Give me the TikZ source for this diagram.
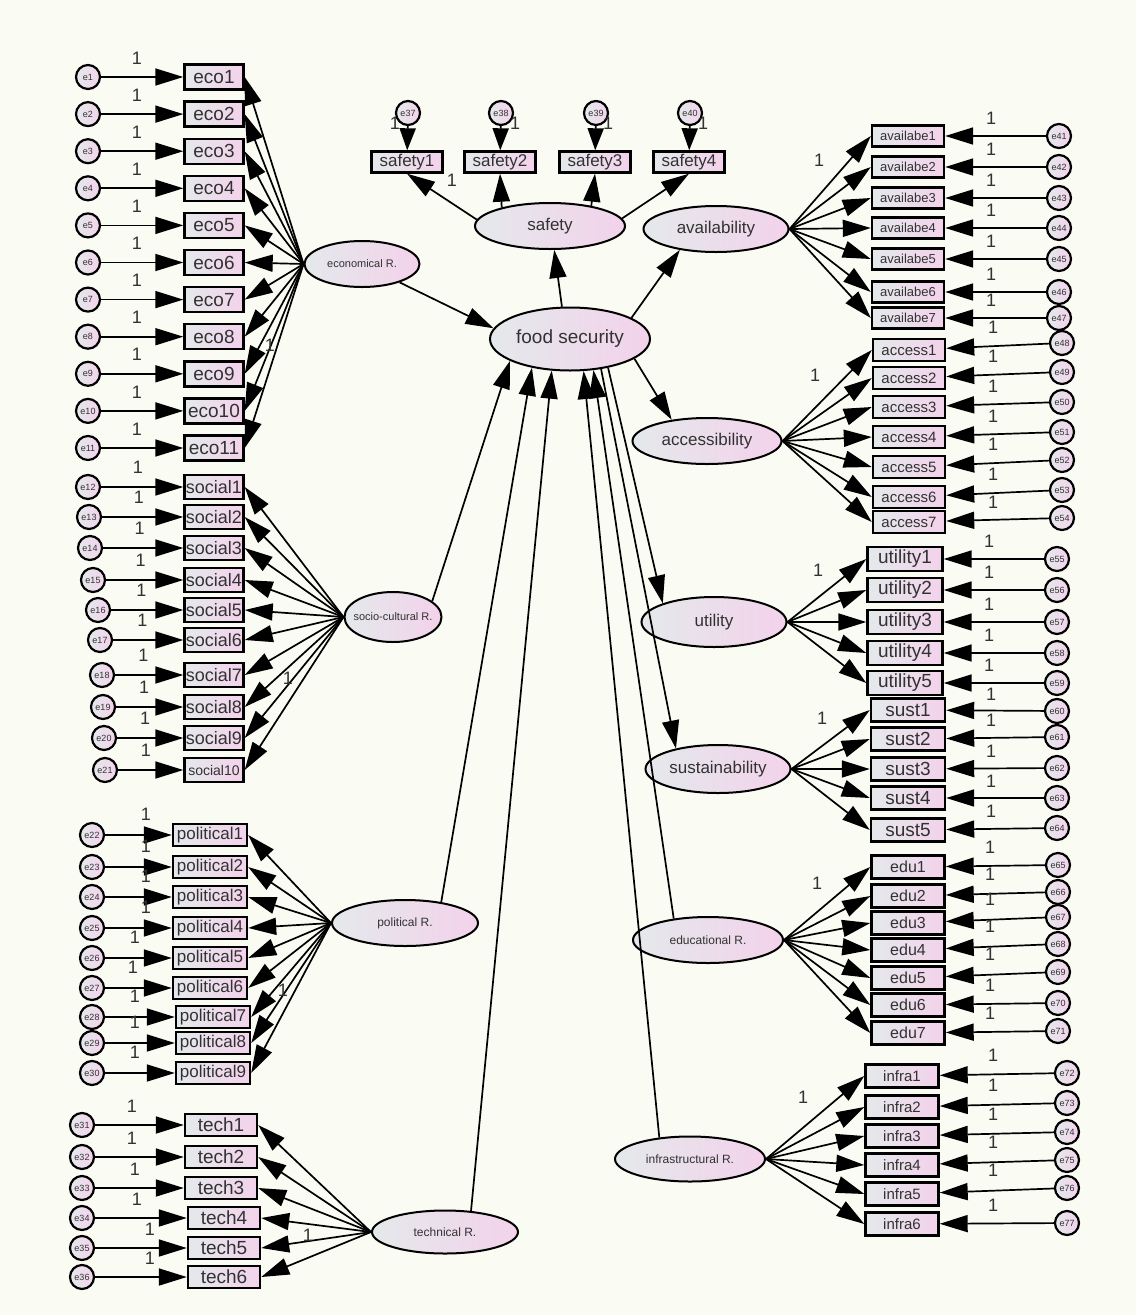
\documentclass[tikz,border=0pt]{standalone}
\usepackage{fontspec}
\setmainfont{Liberation Sans}
\usetikzlibrary{arrows.meta,shapes.geometric}
\definecolor{paper}{RGB}{250,251,243}
\definecolor{fillL}{RGB}{228,233,235}
\definecolor{fillR}{RGB}{243,210,235}
\definecolor{ink}{RGB}{50,50,50}
\newcommand\ctr[1]{\makebox[0pt]{#1}}
\newcommand\fs[1]{\fontsize{#1}{#1}\selectfont}
\begin{document}
\begin{tikzpicture}[x=1pt,y=-1pt,
  every node/.style={text=ink},
  lat/.style 2 args={ellipse, draw=black, line width=2pt, left color=fillL, right color=fillR,
    minimum width=#1, minimum height=#2, inner sep=0pt},
  obs/.style 2 args={rectangle, draw=black, line width=2.4pt, left color=fillL, right color=fillR,
    minimum width=#1, minimum height=#2, inner sep=0pt},
  err/.style={circle, draw=black, line width=2.2pt, left color=fillL, right color=fillR,
    minimum size=24, inner sep=0pt, font=\fs{9}},
  arr/.style={-{Triangle[length=28pt,width=17pt]}, line width=1.7pt, draw=black},
  one/.style={font=\fs{18}, inner sep=0pt},
]
\useasboundingbox (0,0) rectangle (1136,1315);
\fill[paper] (0,0) rectangle (1136,1315);

% latent variables
\node[lat={160}{63}, font=\fs{19}] (food)   at (570,339)  {\ctr{food security}};
\node[lat={150}{46}, font=\fs{17}] (safety) at (550,226)  {\ctr{safety}};
\node[lat={145}{46}, font=\fs{17}] (avail)  at (716,229)  {\ctr{availability}};
\node[lat={149}{46}, font=\fs{17}] (access) at (707,441)  {\ctr{accessibility}};
\node[lat={145}{50}, font=\fs{17}] (util)   at (714,622)  {\ctr{utility}};
\node[lat={145}{48}, font=\fs{17}] (sust)   at (718,769)  {\ctr{sustainability}};
\node[lat={115}{46}, font=\fs{11}] (econ)   at (362,264)  {\ctr{economical R.}};
\node[lat={97}{50},  font=\fs{11}] (socio)  at (393,617)  {\ctr{socio-cultural R.}};
\node[lat={146}{46}, font=\fs{12}] (polit)  at (405,923)  {\ctr{political R.}};
\node[lat={146}{43}, font=\fs{12}] (techn)  at (445,1232) {\ctr{technical R.}};
\node[lat={150}{46}, font=\fs{12}] (educ)   at (708,940)  {\ctr{educational R.}};
\node[lat={150}{45}, font=\fs{12}] (infra)  at (690,1159) {\ctr{infrastructural R.}};

% safety indicators
\foreach \i/\x/\lx [count=\k from 37] in {1/407/395,2/500/515,3/595/608,4/689/703}{
  \node[obs={71}{21}, font=\fs{17}] (saf\i) at (\x,162) {safety\i};
  \node[err] (e\k) at (\x+1,113) {e\k};
  \draw[-{Triangle[length=22pt,width=16pt]}, line width=1.7pt] (e\k) -- (saf\i);
  \node[one] (os\i) at (\lx,123) {1};
}
\draw[arr] (safety.175) -- (saf1.south);
\draw[arr] (safety.159) -- (saf2.south);
\draw[arr] (safety.26)  -- (saf3.south);
\draw[arr] (safety.6)   -- (saf4.south);
\node[one] (osl) at (452,180) {1};

% economical R.
\foreach \i in {1,...,11}{
  \pgfmathsetmacro\yy{77+(\i-1)*37.1}
  \node[obs={59}{25}, font=\fs{19}] (eco\i) at (214,\yy) {eco\i};
  \node[err] (e\i) at (88,\yy) {e\i};
  \draw[arr] (e\i) -- (eco\i);
  \draw[arr] (econ.west) -- (eco\i.east);
  \node[one] (oe\i) at (137,\yy-19) {1};
}
\node[one] (oel) at (270,345) {1};

% socio-cultural R.
\foreach \i/\y/\x/\f [count=\k from 12] in {1/487/88/18,2/517/89/18,3/548/90/18,4/580/93/18,
    5/610/98/18,6/640/100/18,7/675/102/18,8/707/103/18,9/738/104/18,10/770/105/14}{
  \node[obs={59}{24}, font=\fs{\f}] (soc\i) at (214,\y) {social\i};
  \node[err] (e\k) at (\x,\y) {e\k};
  \draw[arr] (e\k) -- (soc\i);
  \draw[arr] (socio.west) -- (soc\i.east);
  \node[one] (ol\i) at (137+\i*0.9,\y-20) {1};
}
\node[one] (osol) at (288,678) {1};

% political R.
\foreach \i/\y/\bx/\lx [count=\k from 22] in {1/835/210/146,2/867/210/146,3/897/210/146,
    4/928/210/146,5/958/210/135,6/988/210/133,7/1017/213/135,8/1043/213/135,9/1073/213/135}{
  \node[obs={74}{22}, font=\fs{17}] (pol\i) at (\bx,\y) {political\i};
  \node[err] (e\k) at (92,\y) {e\k};
  \draw[arr] (e\k) -- (pol\i);
  \draw[arr] (polit.west) -- (pol\i.east);
  \node[one] (op\i) at (\lx,\y-21) {1};
}
\node[one] (opol) at (283,990) {1};

% technical R.
\foreach \i/\y/\bx/\lx [count=\k from 31] in {1/1125/221/132,2/1157/221/132,3/1188/221/135,
    4/1218/224/137,5/1248/224/150,6/1277/224/150}{
  \node[obs={72}{22}, font=\fs{19}] (tec\i) at (\bx,\y) {tech\i};
  \node[err] (e\k) at (82,\y) {e\k};
  \draw[arr] (e\k) -- (tec\i);
  \draw[arr] (techn.west) -- (tec\i.east);
  \node[one] (ot\i) at (\lx,\y-19) {1};
}
\node[one] (otl) at (308,1235) {1};

% availability
\foreach \i/\y [count=\k from 41] in {1/136,2/167,3/198,4/228,5/259,6/292,7/318}{
  \node[obs={72}{21}, font=\fs{13}] (avb\i) at (908,\y) {availabe\i};
  \node[err] (e\k) at (1059,\y) {e\k};
  \draw[arr] (e\k) -- (avb\i);
  \draw[arr] (avail.east) -- (avb\i.west);
  \node[one] (oa\i) at (991,\y-18) {1};
}
\node[one] (oal) at (819,160) {1};

% accessibility
\foreach \i/\y/\ey [count=\k from 48] in {1/350/343,2/378/372,3/407/402,4/437/432,
    5/467/460,6/497/490,7/522/518}{
  \node[obs={72}{22}, font=\fs{15}] (acb\i) at (909,\y) {access\i};
  \node[err] (e\k) at (1062,\ey) {e\k};
  \draw[arr] (e\k) -- (acb\i);
  \draw[arr] (access.east) -- (acb\i.west);
  \node[one] (oc\i) at (993,\ey-16) {1};
}
\node[one] (ocl) at (815,375) {1};

% utility
\foreach \i/\y [count=\k from 55] in {1/559,2/590,3/622,4/653,5/683}{
  \node[obs={75}{24}, font=\fs{19}] (utb\i) at (905,\y) {utility\i};
  \node[err] (e\k) at (1057,\y) {e\k};
  \draw[arr] (e\k) -- (utb\i);
  \draw[arr] (util.east) -- (utb\i.west);
  \node[one] (ou\i) at (989,\y-18) {1};
}
\node[one] (oul) at (818,570) {1};

% sustainability
\foreach \i/\y/\ey [count=\k from 60] in {1/710/711,2/739/737,3/769/768,4/798/798,5/830/828}{
  \node[obs={74}{23}, font=\fs{19}] (sub\i) at (908,\y) {sust\i};
  \node[err] (e\k) at (1057,\ey) {e\k};
  \draw[arr] (e\k) -- (sub\i);
  \draw[arr] (sust.east) -- (sub\i.west);
  \node[one] (on\i) at (991,\ey-17) {1};
}
\node[one] (onl) at (822,718) {1};

% educational R.
\foreach \i/\y/\ey [count=\k from 65] in {1/867/865,2/896/892,3/923/917,4/950/944,
    5/978/972,6/1005/1003,7/1033/1031}{
  \node[obs={73}{23}, font=\fs{16}] (edb\i) at (908,\y) {edu\i};
  \node[err] (e\k) at (1058,\ey) {e\k};
  \draw[arr] (e\k) -- (edb\i);
  \draw[arr] (educ.east) -- (edb\i.west);
  \node[one] (od\i) at (990,\ey-18) {1};
}
\node[one] (odl) at (817,883) {1};

% infrastructural R.
\foreach \i/\y/\ey [count=\k from 72] in {1/1076/1073,2/1107/1103,3/1136/1132,4/1165/1160,
    5/1194/1188,6/1224/1223}{
  \node[obs={73}{23}, font=\fs{15}] (inb\i) at (902,\y) {infra\i};
  \node[err] (e\k) at (1067,\ey) {e\k};
  \draw[arr] (e\k) -- (inb\i);
  \draw[arr] (infra.east) -- (inb\i.west);
  \node[one] (oi\i) at (993,\ey-18) {1};
}
\node[one] (oil) at (803,1097) {1};

% structural paths
\draw[arr] (econ) -- (food.172);
\draw[arr] (socio.22) -- (food.200);
\draw[arr] (polit.30) -- (food.217);
\draw[arr] (techn.39) -- (food.240);
\draw[arr] (educ.148) -- (food.307);
\draw[arr] (infra.145) -- (food.293);
\draw[arr] (food.104) -- (safety.280);
\draw[arr] (food.19) -- (avail.210);
\draw[arr] (food.343) -- (access.149);
\draw[arr] (food.323) -- (util.160);
\draw[arr] (food.316) -- (sust.154);
\end{tikzpicture}
\end{document}
